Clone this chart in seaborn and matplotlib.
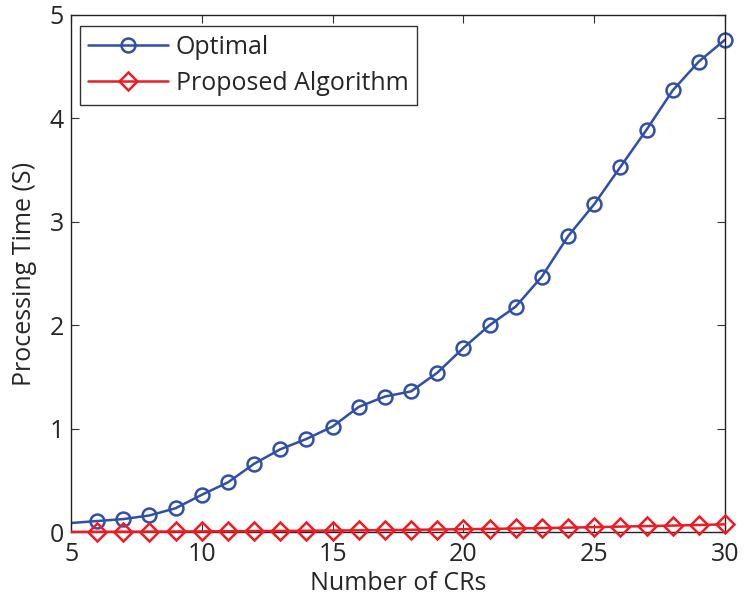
import numpy as np
import pandas as pd
import matplotlib
matplotlib.use("Agg")
import matplotlib.pyplot as plt
from matplotlib.transforms import Bbox, TransformedBbox
import seaborn as sns

# Number of cognitive radios and measured processing time (seconds)
num_crs = [4, 6, 7, 8, 9, 10, 11, 12, 13, 14, 15, 16, 17, 18, 19, 20,
           21, 22, 23, 24, 25, 26, 27, 28, 29, 30]
optimal_time = [0.068, 0.106, 0.125, 0.16, 0.23, 0.36, 0.48, 0.66, 0.80, 0.90,
                1.02, 1.21, 1.31, 1.36, 1.54, 1.78, 2.00, 2.18, 2.47, 2.86,
                3.17, 3.53, 3.89, 4.27, 4.55, 4.76]
proposed_time = [0.001, 0.002, 0.003, 0.004, 0.005, 0.006, 0.007, 0.009, 0.010,
                 0.012, 0.014, 0.016, 0.018, 0.021, 0.024, 0.027, 0.030, 0.034,
                 0.038, 0.042, 0.047, 0.052, 0.057, 0.062, 0.068, 0.074]
series_names = ["Optimal", "Proposed Algorithm"]

df = pd.DataFrame({
    "crs": num_crs * 2,
    "time": optimal_time + proposed_time,
    "method": [series_names[0]] * len(num_crs) + [series_names[1]] * len(num_crs),
})

sns.set_style("ticks")
plt.rcParams["font.family"] = ["Open Sans", "DejaVu Sans"]
plt.rcParams["xtick.direction"] = "in"
plt.rcParams["ytick.direction"] = "in"

FS = 18
fig = plt.figure(figsize=(7.44, 6.04), dpi=100)
ax = fig.add_axes([71 / 744, 1 - 532 / 604, (725 - 71) / 744, (532 - 15) / 604])

palette = {series_names[0]: "#2f4fa8", series_names[1]: "#ec1c24"}
markers = {series_names[0]: "o", series_names[1]: "D"}
sns.lineplot(data=df, x="crs", y="time", hue="method", style="method",
             palette=palette, markers=markers, dashes=False, ax=ax,
             linewidth=1.8, markersize=10, markeredgewidth=1.8, legend=False)

# let markers sit on the frame edges while the lines stay inside the x range
clip = TransformedBbox(Bbox([[0.0, -0.05], [1.05, 1.05]]), ax.transAxes)
for line, name in zip(ax.lines, series_names):
    line.set_markerfacecolor("none")
    line.set_markeredgecolor(palette[name])
    line.set_label(name)
    line.set_zorder(3 if name == series_names[1] else 2)
    line.set_clip_box(clip)
    if name == series_names[1]:
        line.set_markersize(9)

ax.set_xlim(5, 30)
ax.set_ylim(0, 5)
ax.set_xticks([5, 10, 15, 20, 25, 30])
ax.set_yticks([0, 1, 2, 3, 4, 5])
ax.tick_params(axis="both", which="both", top=True, right=True, length=6,
               width=0.8, labelsize=FS, color="#333333")
ax.tick_params(axis="x", pad=7)
ax.tick_params(axis="y", pad=5)
for sp in ax.spines.values():
    sp.set_linewidth(1.0)
    sp.set_color("#222222")
ax.set_xlabel("Number of CRs", fontsize=FS, labelpad=3)
ax.set_ylabel("Processing Time (S)", fontsize=FS, labelpad=9)

leg = ax.legend(handles=ax.lines[:2], loc="upper left", fontsize=FS,
                frameon=True, fancybox=False, edgecolor="black",
                bbox_to_anchor=(0.013, 0.979), borderaxespad=0,
                handlelength=3.2, borderpad=0.35, labelspacing=0.45,
                handletextpad=0.3)
leg.get_frame().set_linewidth(1.0)

fig.savefig("out.png", dpi=100)
